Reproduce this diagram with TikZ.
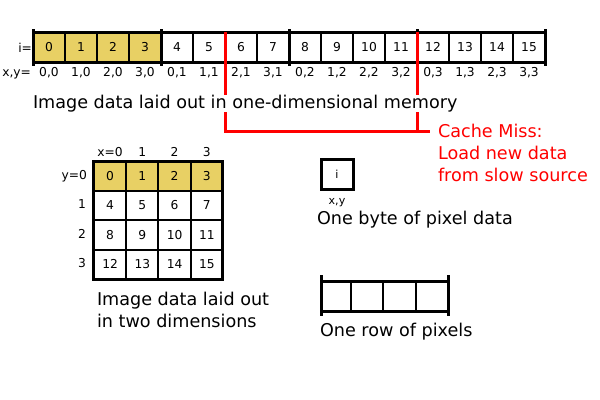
\documentclass[tikz,border=0pt]{standalone}
\usepackage{fontspec}
\setmainfont{DejaVu Sans}
\usetikzlibrary{calc}
\definecolor{pixyellow}{RGB}{232,208,100}
\definecolor{missred}{RGB}{255,0,0}
\tikzset{
  big/.style={font=\fontsize{13.2}{16}\selectfont, inner sep=0pt, outer sep=0pt},
  small/.style={font=\fontsize{9.2}{11}\selectfont, inner sep=0pt, outer sep=0pt},
  tiny/.style={font=\fontsize{8.3}{10}\selectfont, inner sep=0pt, outer sep=0pt},
  mcell/.style={small, minimum width=24pt, minimum height=22.5pt},
  gcell/.style={small, minimum width=24.19pt, minimum height=22.125pt},
  thinl/.style={line width=1pt},
  medl/.style={line width=1.5pt},
  thickl/.style={line width=2.25pt},
  redline/.style={line width=2.25pt, missred},
}
\begin{document}
\begin{tikzpicture}[x=0.75pt, y=-0.75pt]
\fill[white] (0,0) rectangle (600,400);
\useasboundingbox (0,0) rectangle (600,400);

% ---------- one-dimensional memory strip ----------
\foreach \i in {0,...,15} {
  \pgfmathsetmacro\cx{49+32*\i}
  \pgfmathtruncatemacro\xx{mod(\i,4)}
  \pgfmathtruncatemacro\yy{int(\i/4)}
  \ifnum\i<4
    \node[mcell, fill=pixyellow] (m\i) at (\cx,47) {\i};
  \else
    \node[mcell] (m\i) at (\cx,47) {\i};
  \fi
  \node[small, anchor=base] (c\i) at (\cx,76) {\xx,\yy};
}
\foreach \i in {0,...,14} {
  \draw[thinl] (m\i.north east) -- (m\i.south east);
}
\draw[thickl] (m0.north west) -- (m15.north east);
\draw[thickl] (m0.south west) -- (m15.south east);
\foreach \i in {0,4,8,12} {
  \draw[thickl] ($(m\i.north west)+(0,-3)$) -- ($(m\i.south west)+(0,4)$);
}
\draw[thickl] ($(m15.north east)+(0,-3)$) -- ($(m15.south east)+(0,4)$);
\node[small, anchor=base east] (ilab) at (32,52) {i=};
\node[small, anchor=base east] (xylab) at (31,76) {x,y=};

% ---------- cache miss ----------
\coordinate (ra) at (m5.north east);
\coordinate (rb) at (m11.north east);
\coordinate (rc) at (225,131);
\coordinate (rd) at (417,131);
\coordinate (re) at (430,131);
\draw[redline] (ra) -- (rc) -- (re);
\draw[redline] (rb) -- (rd);

\node[big, anchor=base west, fill=white] (t1) at (33,108) {Image data laid out in one-dimensional memory};

\node[big, anchor=base west, text=missred] (cm1) at (438,137) {Cache Miss:};
\node[big, anchor=base west, text=missred] (cm2) at (438,159) {Load new data};
\node[big, anchor=base west, text=missred] (cm3) at (438,181) {from slow source};

% ---------- two-dimensional grid ----------
\foreach \r in {0,...,3} {
  \foreach \c in {0,...,3} {
    \pgfmathtruncatemacro\v{4*\r+\c}
    \pgfmathsetmacro\gx{110.1+32.25*\c}
    \pgfmathsetmacro\gy{175.75+29.5*\r}
    \ifnum\r=0
      \node[gcell, fill=pixyellow] (g\r\c) at (\gx,\gy) {\v};
    \else
      \node[gcell] (g\r\c) at (\gx,\gy) {\v};
    \fi
  }
}
\foreach \c in {0,1,2} {
  \draw[medl] (g0\c.north east) -- (g3\c.south east);
}
\foreach \r in {0,1,2} {
  \draw[medl] (g\r0.south west) -- (g\r3.south east);
}
\draw[thickl] (g00.north west) rectangle (g33.south east);
\node[small, anchor=base] (gx0) at (110.1,156) {x=0};
\node[small, anchor=base] (gx1) at (142.35,156) {1};
\node[small, anchor=base] (gx2) at (174.6,156) {2};
\node[small, anchor=base] (gx3) at (206.85,156) {3};
\node[small, anchor=base east] (gy0) at (87,179) {y=0};
\node[small, anchor=base east] (gy1) at (86,208.5) {1};
\node[small, anchor=base east] (gy2) at (86,238) {2};
\node[small, anchor=base east] (gy3) at (86,267.5) {3};

\node[big, anchor=base west] (t2a) at (97,305) {Image data laid out};
\node[big, anchor=base west] (t2b) at (97,327) {in two dimensions};

% ---------- one byte ----------
\node[tiny, draw, thickl, minimum width=24pt, minimum height=22.5pt] (byte) at (337,174) {i};
\node[tiny, anchor=base] (bytexy) at (337,204) {x,y};
\node[big, anchor=base west] (t3) at (317,224) {One byte of pixel data};

% ---------- one row ----------
\coordinate (rw0) at (321,281);
\coordinate (rw1) at (448,281);
\coordinate (rw2) at (321,311);
\coordinate (rw3) at (448,311);
\draw[thickl] (rw0) -- (rw1);
\draw[thickl] (rw2) -- (rw3);
\draw[thickl] ($(rw0)+(0,-6)$) -- ($(rw2)+(0,5)$);
\draw[thickl] ($(rw1)+(0,-6)$) -- ($(rw3)+(0,5)$);
\foreach \x in {351,383,416} {
  \draw[thinl] (\x,281) -- (\x,311);
}
\node[big, anchor=base west] (t4) at (320,336) {One row of pixels};
\end{tikzpicture}
\end{document}
